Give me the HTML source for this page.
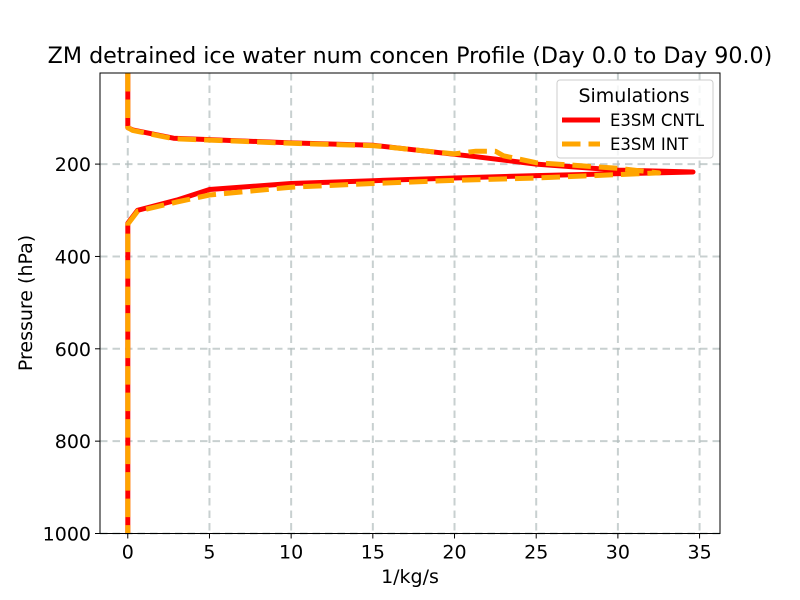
<!DOCTYPE html>
<html><head><meta charset="utf-8"><style>
body{margin:0;background:#fff}
svg{display:block;font-family:"DejaVu Sans","Liberation Sans",sans-serif}
</style></head><body>
<svg id="chart" width="800" height="600" viewBox="0 0 800 600">
<rect width="800" height="600" fill="#fff"/>
<text x="410" y="63" font-size="22.2" text-anchor="middle">ZM detrained ice water num concen Profile (Day 0.0 to Day 90.0)</text>
<g id="grid"></g>
<g id="series"></g>
<rect x="100" y="73" width="620" height="460.5" fill="none" stroke="#000" stroke-width="1"/>
<g id="ticks"></g>
<text x="410" y="583" font-size="19" text-anchor="middle">1/kg/s</text>
<text x="32" y="303" font-size="19" text-anchor="middle" transform="rotate(-90 32 303)">Pressure (hPa)</text>
<g>
<rect x="557" y="80" width="156" height="78" rx="3" fill="#fff" fill-opacity="0.8" stroke="#ccc"/>
<text x="634" y="102" font-size="19" text-anchor="middle">Simulations</text>
<line x1="562" y1="120" x2="600" y2="120" stroke="#f00" stroke-width="5"/>
<text x="610" y="126" font-size="16.5">E3SM CNTL</text>
<line x1="562" y1="144" x2="600" y2="144" stroke="#ffa500" stroke-width="5" stroke-dasharray="18.5,8"/>
<text x="610" y="150" font-size="16.5">E3SM INT</text>
</g>
</svg>
<script>
const xTicks=[0,5,10,15,20,25,30,35];
const yTicks=[200,400,600,800,1000];
const cntlX=[0,0,0.3,2.8,5,10,15,21.3,25,30,34.6,25,20,15,10,5,3,0.6,0,0,0];
const cntlP=[2.7,121,126,144,147,154,159,184,200,213,217,225,230,236,242,255,278,300,328,600,1000];
const intX=[0,0,0.3,2.8,5,10,15,20,21.3,22.5,23,25,30,32.5,25,20,15,10,5,3,0.6,0,0,0];
const intP=[2.7,121,127,145,148,155,160,178,172,172,182,197,209,219,230,235,242,250,267,282,302,330,600,1000];
const ns="http://www.w3.org/2000/svg";
const L=100,R=720,T=73,B=533.5,X0=-1.7,X1=36.25,P0=2.7,P1=1000;
function sx(v){return L+(v-X0)/(X1-X0)*(R-L);}
function sy(p){return T+(p-P0)/(P1-P0)*(B-T);}
function mk(tag,attrs,parent){const e=document.createElementNS(ns,tag);for(const k in attrs)e.setAttribute(k,attrs[k]);parent.appendChild(e);return e;}
const grid=document.getElementById('grid'),ticks=document.getElementById('ticks'),ser=document.getElementById('series');
xTicks.forEach(v=>{
 const g=mk('line',{x1:sx(v),x2:sx(v),y1:T,y2:B,stroke:'#b0bcbc','stroke-width':2,'stroke-dasharray':'7.5,5','stroke-opacity':0.7},grid);
 
 
 const t=mk('line',{x1:sx(v),x2:sx(v),y1:B,y2:B+5,stroke:'#000'},ticks);
 
 
 const l=mk('text',{x:sx(v),y:B+25,'font-size':19,'text-anchor':'middle'},ticks);
 l.textContent=v;
 
 
});
yTicks.forEach(v=>{
 const g=mk('line',{x1:L,x2:R,y1:sy(v),y2:sy(v),stroke:'#b0bcbc','stroke-width':2,'stroke-dasharray':'7.5,5','stroke-opacity':0.7},grid);
 
 
 const t=mk('line',{x1:L-5,x2:L,y1:sy(v),y2:sy(v),stroke:'#000'},ticks);
 
 
 const l=mk('text',{x:L-9,y:sy(v)+7,'font-size':19,'text-anchor':'end'},ticks);
 l.textContent=v;
 
 
});
function line(xs,ps,attrs){
 const d=xs.map((x,i)=>(i?'L':'M')+sx(x).toFixed(1)+','+sy(ps[i]).toFixed(1)).join('');
 return mk('path',Object.assign({d:d,fill:'none','stroke-linejoin':'round'},attrs),ser);
}
const c=line(cntlX,cntlP,{stroke:'#f00','stroke-width':5});


const n=line(intX,intP,{stroke:'#ffa500','stroke-width':5,'stroke-dasharray':'18.5,8'});


</script>
</body></html>
